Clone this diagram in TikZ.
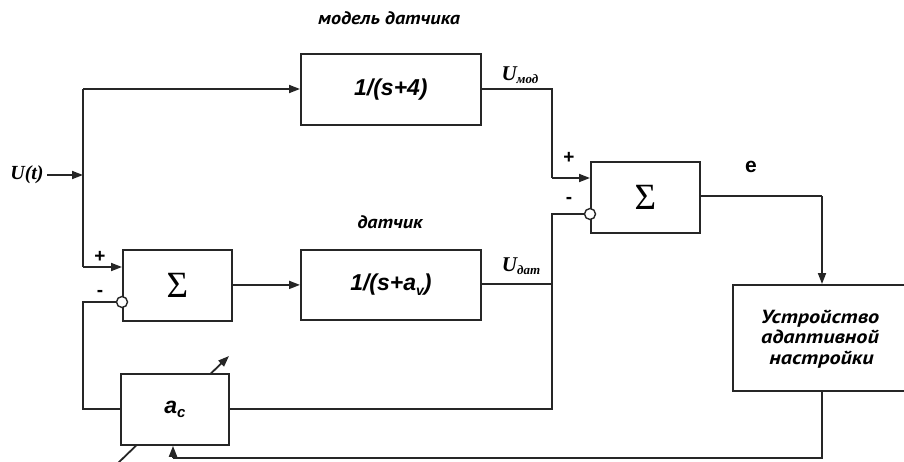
\documentclass[tikz,border=0pt]{standalone}
\usepackage{fontspec}
\setmainfont{Liberation Sans}
\newfontfamily\serifrm{Liberation Serif}
\newfontfamily\cyrsans[FakeStretch=1.12]{PT Sans}
\newfontfamily\cyrwide[FakeStretch=1.17]{PT Sans}
\usetikzlibrary{arrows.meta}

\newcommand{\fsz}[1]{\fontsize{#1}{#1}\selectfont}

\begin{document}
\begin{tikzpicture}[x=1pt,y=-1pt,
  wire/.style={line width=1.8pt, draw=black!85},
  arr/.style={wire, -{Triangle[length=11pt,width=8pt]}},
  blk/.style={wire, fill=white, inner sep=0pt, anchor=north west},
  port/.style={circle, wire, fill=white, minimum size=11pt, inner sep=0pt, line width=1.4pt},
  btxt/.style={font=\bfseries\itshape\fsz{23}},
  lbl/.style={font=\cyrsans\bfseries\itshape\fsz{18}},
  sgn/.style={font=\bfseries\fsz{19}},
  sigma/.style={font=\serifrm\fsz{37}}]
\useasboundingbox (0,0) rectangle (904,461);

% adjustment arrow crossing the coefficient block (box drawn over it)
\coordinate (adjA) at (116,465);
\coordinate (adjB) at (229,356);
\draw[arr] (adjA) -- (adjB);

% blocks
\node[blk, minimum width=180pt, minimum height=71pt] (model) at (300,53) {};
\node[btxt] at (model.center) {1/(s+4)};
\node[blk, minimum width=109pt, minimum height=71pt] (sumL) at (122,249) {};
\node[sigma] at (sumL.center) {Σ};
\node[blk, minimum width=180pt, minimum height=70pt] (sens) at (300,249) {};
\node[btxt] at (sens.center) {1/(s+a\raisebox{-0.35ex}{\fsz{14}v})};
\node[blk, minimum width=109pt, minimum height=71pt] (sumR) at (590,161) {};
\node[sigma] at (sumR.center) {Σ};
\node[blk, minimum width=176pt, minimum height=106pt] (adapt) at (732,284) {};
\node[align=center, font=\cyrwide\bfseries\itshape\fontsize{19}{20.5}\selectfont] at (820,339)
  {Устройство\\адаптивной\\\,настройки};
\node[blk, minimum width=108pt, minimum height=71pt] (coef) at (120,373) {};
\node[btxt] at (coef.center) {a\raisebox{-0.4ex}{\fsz{15}c}};

% text labels
\node[lbl] (tmodel) at (389,18) {модель датчика};
\node[lbl] (tsens) at (390,222) {датчик};
\node[font=\serifrm\bfseries\itshape\fsz{20}] (ut) at (27,175) {U(t)};
\node (umod) at (520,75) {{\serifrm\bfseries\itshape\fsz{21}U}\raisebox{-0.45ex}{\serifrm\bfseries\itshape\fsz{13}мод}};
\node (udat) at (521,266) {{\serifrm\bfseries\itshape\fsz{21}U}\raisebox{-0.45ex}{\serifrm\bfseries\itshape\fsz{13}дат}};
\node[font=\bfseries\fsz{21}] (e) at (751,167) {e};
\node[sgn] at (100,257) {+};
\node[sgn] at (100,293) {-};
\node[sgn] at (569,158) {+};
\node[sgn] at (569,200) {-};

% junction points
\coordinate (jin) at (83,175);
\coordinate (jtop) at (83,89);
\coordinate (jplus) at (83,267);
\coordinate (jfb) at (83,302);
\coordinate (jfbb) at (83,409);
\coordinate (jmod) at (552,89);
\coordinate (jmodp) at (552,178);
\coordinate (jdat) at (552,284);
\coordinate (jdatb) at (552,409);
\coordinate (jminus) at (552,214);
\coordinate (je) at (822,196);
\coordinate (jad) at (822,458);
\coordinate (jac) at (173,458);

% ports with inversion
\node[port] (cL) at (122,302) {};
\node[port] (cR) at (590,214) {};

% connectors
\draw[arr] (ut.east) -- (jin);
\draw[wire] (jtop) -- (jplus);
\draw[arr] (jtop) -- (model.west |- jtop);
\draw[arr] (jplus) -- (sumL.west |- jplus);
\draw[arr] (sumL.east |- sens.center) -- (sens.west);
\draw[wire] (model.east |- jmod) -- (jmod) -- (jmodp);
\draw[arr] (jmodp) -- (sumR.west |- jmodp);
\draw[wire] (sens.east |- jdat) -- (jdat);
\draw[wire] (coef.east |- jdatb) -- (jdatb) -- (jminus) -- (cR.west);
\draw[wire] (cL.west) -- (jfb) -- (jfbb) -- (coef.west |- jfbb);
\draw[wire] (sumR.east |- je) -- (je);
\draw[arr] (je) -- (je |- adapt.north);
\draw[wire] (adapt.south -| jad) -- (jad) -- (jac);
\draw[arr] (jac) -- (jac |- coef.south);
\end{tikzpicture}
\end{document}
